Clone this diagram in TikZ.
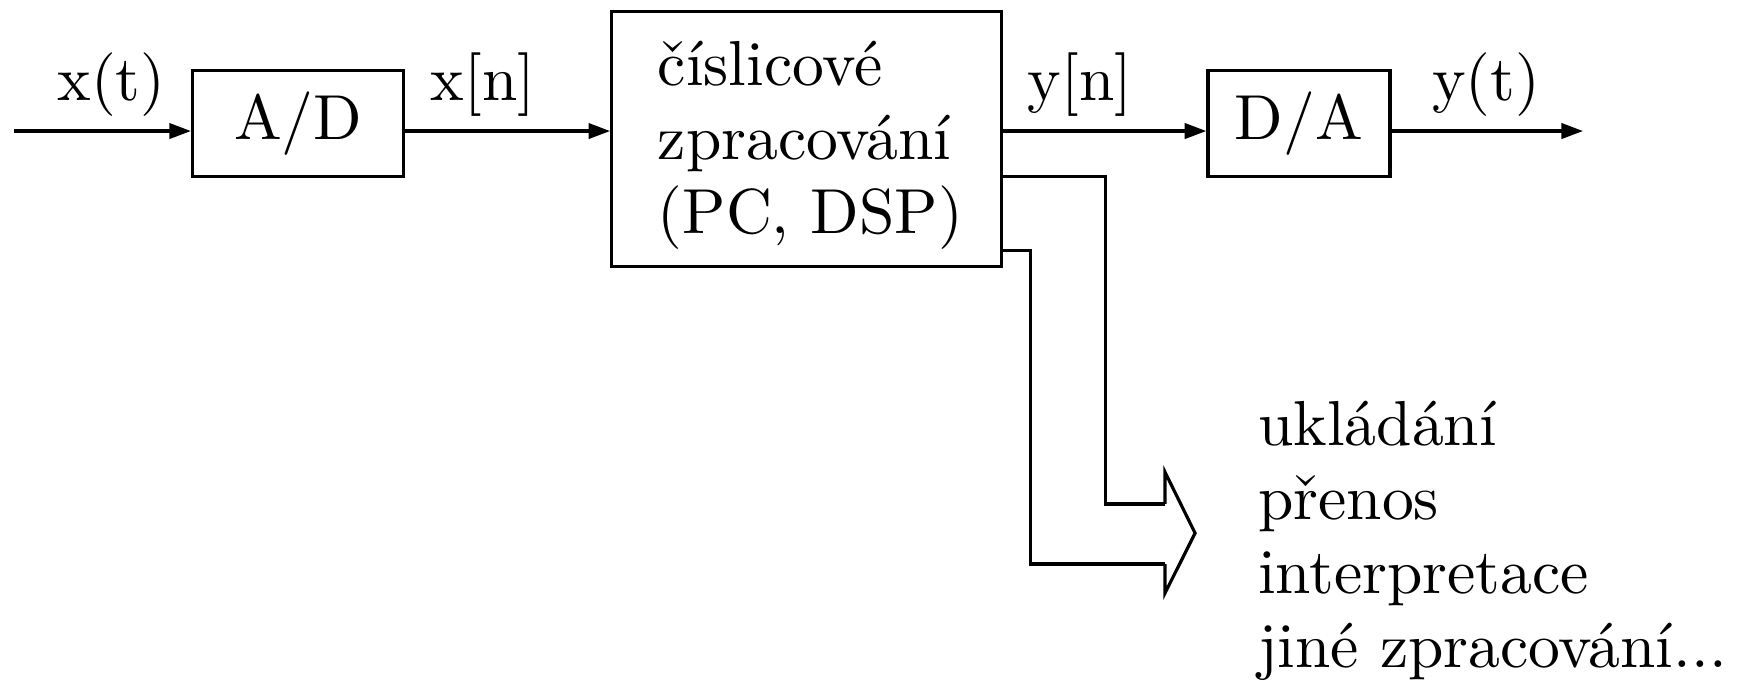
\documentclass[tikz,border=0pt]{standalone}
\usetikzlibrary{arrows.meta}

\tikzset{
  blok/.style={draw, line width=0.5pt, inner sep=0pt},
  sig/.style={line width=0.5pt, -{Triangle[length=3.4pt,width=2.4pt]}},
  popis/.style={anchor=base, inner sep=0pt},
  txt/.style={anchor=base west, inner sep=0pt, align=left, font=\fontsize{10}{11.6}\selectfont}
}

\begin{document}
\begin{tikzpicture}
    \useasboundingbox (0,0) rectangle (9.665,3.758);
    % bloky
    \node[blok, minimum width=1.166cm, minimum height=0.586cm] (ad) at (1.647,3.074) {A/D};
    \node[blok, minimum width=2.155cm, minimum height=1.409cm] (dsp) at (4.458,2.988) {};
    \node[txt] (dsptext) at (3.629,2.470) {číslicové\\zpracování\\(PC, DSP)};
    \node[blok, minimum width=1.006cm, minimum height=0.586cm] (da) at (7.178,3.074) {D/A};
    \coordinate (vstup) at (0.077,3.034);
    \coordinate (vystup) at (8.748,3.034);
    % signaly
    \draw[sig] (vstup) -- (vstup -| ad.west);
    \draw[sig] (ad.east |- vstup) -- (dsp.west |- vstup);
    \draw[sig] (dsp.east |- vstup) -- (da.west |- vstup);
    \draw[sig] (da.east |- vstup) -- (vystup);
    \node[popis] (xt) at (0.616,3.200) {x(t)};
    \node[popis] (xn) at (2.669,3.200) {x[n]};
    \node[popis] (yn) at (5.968,3.200) {y[n]};
    \node[popis] (yt) at (8.212,3.200) {y(t)};
    % dalsi vystupy
    \coordinate (h1) at (6.438,0.973);
    \coordinate (h2) at (6.438,0.641);
    \draw[line width=0.5pt] (dsp.east |- 0,2.781) -- (6.110,2.781) -- (6.110,0.973) -- (h1);
    \draw[line width=0.5pt] (dsp.east |- 0,2.376) -- (5.696,2.376) -- (5.696,0.641) -- (h2);
    \draw[line width=0.5pt] (h1) -- (6.438,1.149) -- (6.604,0.812) -- (6.438,0.481) -- (h2);
    \node[txt] (dalsi) at (6.946,0.072) {ukládání\\přenos\\interpretace\\jiné zpracování...};
\end{tikzpicture}
\end{document}
